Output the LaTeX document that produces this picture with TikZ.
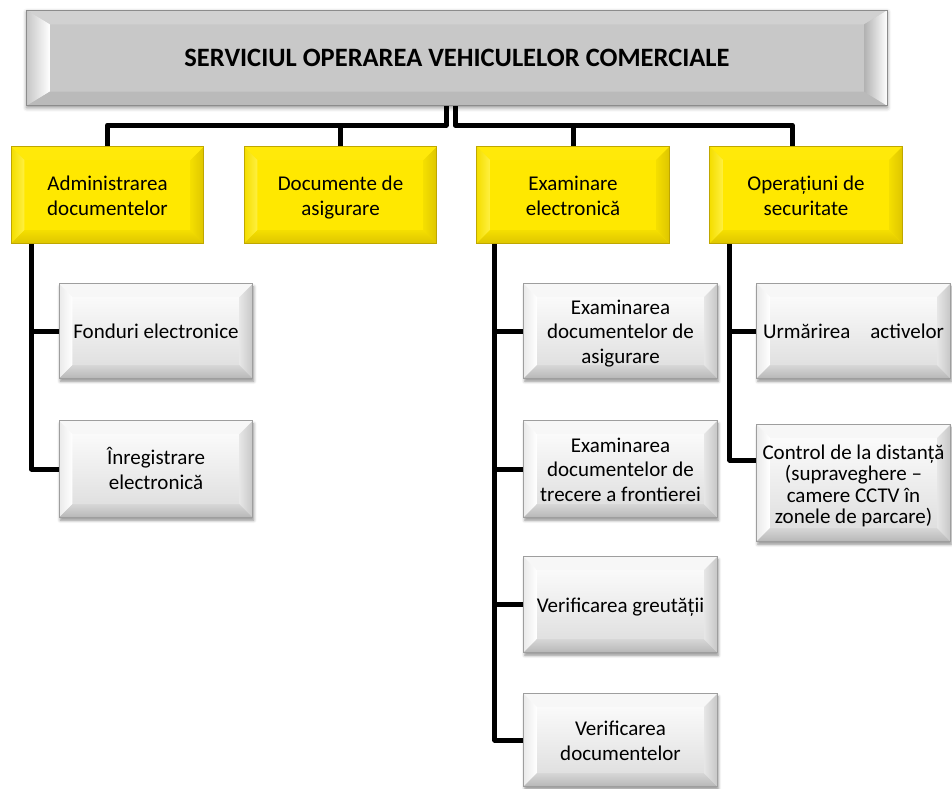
\documentclass[tikz,border=0pt]{standalone}
\usepackage{fontspec}
\setmainfont{Carlito}
\usetikzlibrary{backgrounds,shadows.blur}

% Bevelled box drawn behind a named node:
% #1 node, #2 style prefix, #3 horizontal bevel width, #4 vertical bevel width
\newcommand\bevelbox[4]{%
  \path[#2face] (#1.north west) rectangle (#1.south east);
  \path[#2top] (#1.north west) -- (#1.north east)
     -- ([xshift=-#3,yshift=-#4]#1.north east) -- ([xshift=#3,yshift=-#4]#1.north west) -- cycle;
  \path[#2left] (#1.north west) -- ([xshift=#3,yshift=-#4]#1.north west)
     -- ([xshift=#3,yshift=#4]#1.south west) -- (#1.south west) -- cycle;
  \path[#2bottom] (#1.south west) -- ([xshift=#3,yshift=#4]#1.south west)
     -- ([xshift=-#3,yshift=#4]#1.south east) -- (#1.south east) -- cycle;
  \path[#2right] (#1.south east) -- ([xshift=-#3,yshift=#4]#1.south east)
     -- ([xshift=-#3,yshift=-#4]#1.north east) -- (#1.north east) -- cycle;
  \draw[#2border] (#1.north west) rectangle (#1.south east);
}
% extra room above the first line, so that the text sits a little low in its box
\newcommand\toproom{\rule{0pt}{23pt}}

\definecolor{yface}{HTML}{FFE800}
\definecolor{ylight}{HTML}{FFF040}
\definecolor{ymid}{HTML}{F4DE00}
\definecolor{ydark}{HTML}{DEC600}
\definecolor{yedge}{HTML}{BFA700}
\definecolor{tface}{HTML}{C8C8C8}

\tikzset{
  conn/.style={line width=5pt, black, line join=round},
  topbox/.style={minimum width=860pt, minimum height=95pt, inner sep=0pt,
    font=\bfseries\fontsize{26.5}{30}\selectfont},
  ybox/.style={minimum width=192pt, minimum height=96pt, inner sep=0pt,
    align=center, font=\fontsize{21}{24.5}\selectfont},
  gbox/.style={minimum width=193pt, minimum height=95pt, inner sep=0pt,
    align=center, font=\fontsize{21}{24.5}\selectfont},
  % top box
  tface/.style={fill=tface, blur shadow={shadow xshift=0pt, shadow yshift=-2pt,
    shadow blur radius=4pt, shadow opacity=45}},
  ttop/.style={fill=black!18},
  tleft/.style={left color=black!22, right color=white},
  tbottom/.style={fill=black!27},
  tright/.style={left color=black!30, right color=white},
  tborder/.style={draw=black!45, line width=0.8pt},
  % yellow boxes
  yface/.style={fill=yface},
  ytop/.style={fill=yface!85!ylight},
  yleft/.style={left color=ymid, right color=ylight},
  ybottom/.style={top color=ymid, bottom color=ydark},
  yright/.style={left color=ymid, right color=ydark},
  yborder/.style={draw=yedge, line width=0.8pt},
  % grey boxes
  gface/.style={top color=white, bottom color=black!14,
    blur shadow={shadow xshift=1pt, shadow yshift=-3pt,
    shadow blur radius=3pt, shadow opacity=45}},
  gtop/.style={fill=white!97!black},
  gleft/.style={left color=black!8, right color=white},
  gbottom/.style={top color=black!16, bottom color=black!28},
  gright/.style={left color=black!10, right color=black!22},
  gborder/.style={draw=black!38, line width=0.8pt},
}

\begin{document}
\begin{tikzpicture}[x=1pt, y=-1pt]
\useasboundingbox (0,0) rectangle (952,788);

% boxes (text only; fills are drawn behind)
\node[topbox] (top) at (457,58) {SERVICIUL OPERAREA VEHICULELOR COMERCIALE};

\node[ybox] (y1) at (107.5,195) {\toproom Administrarea\\documentelor\strut};
\node[ybox] (y2) at (340.5,195) {\toproom Documente de\\asigurare\strut};
\node[ybox] (y3) at (573,195) {\toproom Examinare\\electronică\strut};
\node[ybox] (y4) at (806,195) {\toproom Operațiuni de\\securitate\strut};

\node[gbox, minimum height=94pt] (g11) at (156,331) {\toproom Fonduri electronice\strut};
\node[gbox, minimum height=96pt] (g12) at (156,469) {\toproom Înregistrare\\electronică\strut};

\node[gbox, minimum height=94pt] (g31) at (620.5,331) {\toproom Examinarea\\documentelor de\\asigurare\strut};
\node[gbox, minimum height=96pt] (g32) at (620.5,469) {\toproom Examinarea\\documentelor de\\trecere a frontierei\strut};
\node[gbox, minimum height=95pt] (g33) at (620.5,604.5) {\toproom Verificarea greutății\strut};
\node[gbox, minimum height=92pt] (g34) at (620.5,740) {\toproom Verificarea\\documentelor\strut};

\node[gbox, minimum height=94pt] (g41) at (853.5,331) {\toproom Urmărirea\hspace{20pt}activelor\strut};
\node[gbox, minimum height=116pt, font=\fontsize{21}{21.5}\selectfont] (g42) at (853.5,483)
  {\toproom Control de la distanță\\(supraveghere –\\camere CCTV în\\zonele de parcare)\strut};

% connector anchor points
\coordinate (bus) at (0,125);
\coordinate (tl) at ([xshift=-11pt]top.south);
\coordinate (tr) at ([xshift=-2pt]top.south);
\coordinate (y4in) at ([xshift=-14pt]y4.north);
\coordinate (v1) at ([xshift=20pt]y1.south west);
\coordinate (v3) at ([xshift=18pt]y3.south west);
\coordinate (v4) at ([xshift=20pt]y4.south west);
\coordinate (g42in) at ([yshift=23pt]g42.west);

\begin{scope}[on background layer]
  % connectors
  \draw[conn] (tl) -- (tl |- bus) -| (y1.north);
  \draw[conn] (tl |- bus) -| (y2.north);
  \draw[conn] (tr) -- (tr |- bus) -| (y3.north);
  \draw[conn] (tr |- bus) -| (y4in);
  \draw[conn] (v1) |- (g11.west);
  \draw[conn] (v1) |- (g12.west);
  \draw[conn] (v3) |- (g31.west);
  \draw[conn] (v3) |- (g32.west);
  \draw[conn] (v3) |- (g33.west);
  \draw[conn] (v3) |- (g34.west);
  \draw[conn] (v4) |- (g41.west);
  \draw[conn] (v4) |- (g42in);

  % bevelled boxes
  \bevelbox{top}{t}{23pt}{14pt}
  \foreach \n in {y1,y2,y3,y4}{\bevelbox{\n}{y}{13pt}{13pt}}
  \foreach \n in {g11,g12,g31,g32,g33,g34,g41,g42}{\bevelbox{\n}{g}{13pt}{13pt}}
\end{scope}
\end{tikzpicture}
\end{document}
